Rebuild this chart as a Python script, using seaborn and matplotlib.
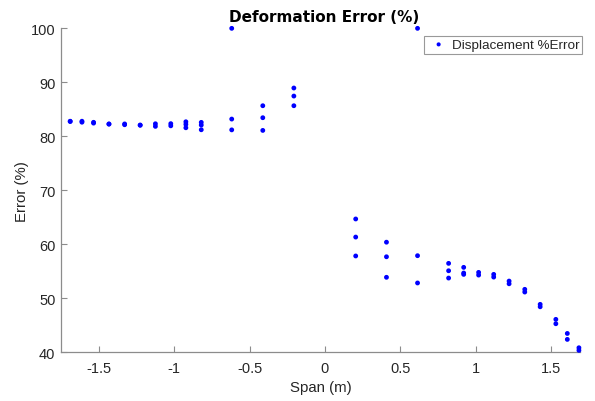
import matplotlib
matplotlib.use("Agg")
import matplotlib.pyplot as plt
import seaborn as sns
import pandas as pd

# Measured span positions (m) and the displacement error (%) at each sensor
span = [
    -1.689, -1.689,
    -1.611, -1.611,
    -1.534, -1.534,
    -1.432, -1.432,
    -1.328, -1.328,
    -1.225, -1.225,
    -1.124, -1.124,
    -1.022, -1.022,
    -0.922, -0.922, -0.922,
    -0.820, -0.820, -0.820,
    -0.618, -0.618, -0.618,
    -0.412, -0.412, -0.412,
    -0.206, -0.206, -0.206,
    0.204, 0.204, 0.204,
    0.408, 0.408, 0.408,
    0.614, 0.614, 0.614,
    0.820, 0.820, 0.820,
    0.920, 0.920, 0.920,
    1.019, 1.019,
    1.119, 1.119,
    1.221, 1.221,
    1.325, 1.325,
    1.427, 1.427,
    1.531, 1.531,
    1.607, 1.607,
    1.684, 1.684,
]
error_pct = [
    82.80, 82.75,
    82.80, 82.62,
    82.60, 82.45,
    82.30, 82.26,
    82.30, 82.15,
    82.10, 82.05,
    82.33, 81.85,
    82.35, 81.95,
    82.70, 82.22, 81.59,
    82.59, 82.09, 81.22,
    100.0, 83.20, 81.20,
    85.67, 83.45, 81.10,
    88.95, 87.46, 85.67,
    64.70, 61.35, 57.85,
    60.40, 57.70, 53.90,
    100.0, 57.90, 52.85,
    56.48, 55.11, 53.76,
    55.74, 54.69, 54.44,
    54.81, 54.31,
    54.44, 53.94,
    53.20, 52.70,
    51.67, 51.17,
    48.89, 48.44,
    46.11, 45.30,
    43.50, 42.40,
    40.85, 40.37,
]

x_ticks = [-1.5, -1, -0.5, 0, 0.5, 1, 1.5]
x_tick_labels = ["-1.5", "-1", "-0.5", "0", "0.5", "1", "1.5"]
y_ticks = [40, 50, 60, 70, 80, 90, 100]

df = pd.DataFrame({"Span (m)": span, "Error (%)": error_pct})

sns.set_theme(style="white")
plt.rcParams["font.family"] = ["Liberation Sans", "DejaVu Sans"]

fig = plt.figure(figsize=(5.95, 4.02), dpi=100)
ax = fig.add_axes([0.1025, 0.121, 0.872, 0.806])

sns.scatterplot(
    data=df, x="Span (m)", y="Error (%)", ax=ax,
    color="#0000ff", s=12, linewidth=0, edgecolor="none",
    label="Displacement %Error", clip_on=False, zorder=3,
)

ax.set_xlim(-1.75, 1.69)
ax.set_ylim(40, 100)
ax.set_xticks(x_ticks)
ax.set_xticklabels(x_tick_labels)
ax.set_yticks(y_ticks)

for side in ("top", "right"):
    ax.spines[side].set_visible(False)
for side in ("left", "bottom"):
    ax.spines[side].set_color("#8c8c8c")
    ax.spines[side].set_linewidth(0.9)

ax.tick_params(axis="both", direction="in", length=4, width=0.8,
               color="#8c8c8c", labelcolor="#262626", labelsize=10.5,
               bottom=True, left=True)
ax.tick_params(axis="x", pad=6.5)
ax.tick_params(axis="y", pad=4)

ax.set_xlabel("Span (m)", fontsize=10.8, color="#262626", labelpad=3)
ax.set_ylabel("Error (%)", fontsize=10.8, color="#262626", labelpad=1.5)
ax.set_title("Deformation Error (%)", fontsize=11, fontweight="bold",
             color="black", pad=5, x=0.507, family="DejaVu Sans")

leg = ax.legend(loc="upper right", bbox_to_anchor=(1.005, 0.977),
                borderaxespad=0, frameon=True, fancybox=False,
                fontsize=9.7, handletextpad=0.15, borderpad=0.2,
                handlelength=1.7, markerscale=0.85)
leg.get_frame().set_edgecolor("#808080")
leg.get_frame().set_linewidth(0.8)
for t in leg.get_texts():
    t.set_color("#262626")

fig.savefig("out.png", dpi=100)
